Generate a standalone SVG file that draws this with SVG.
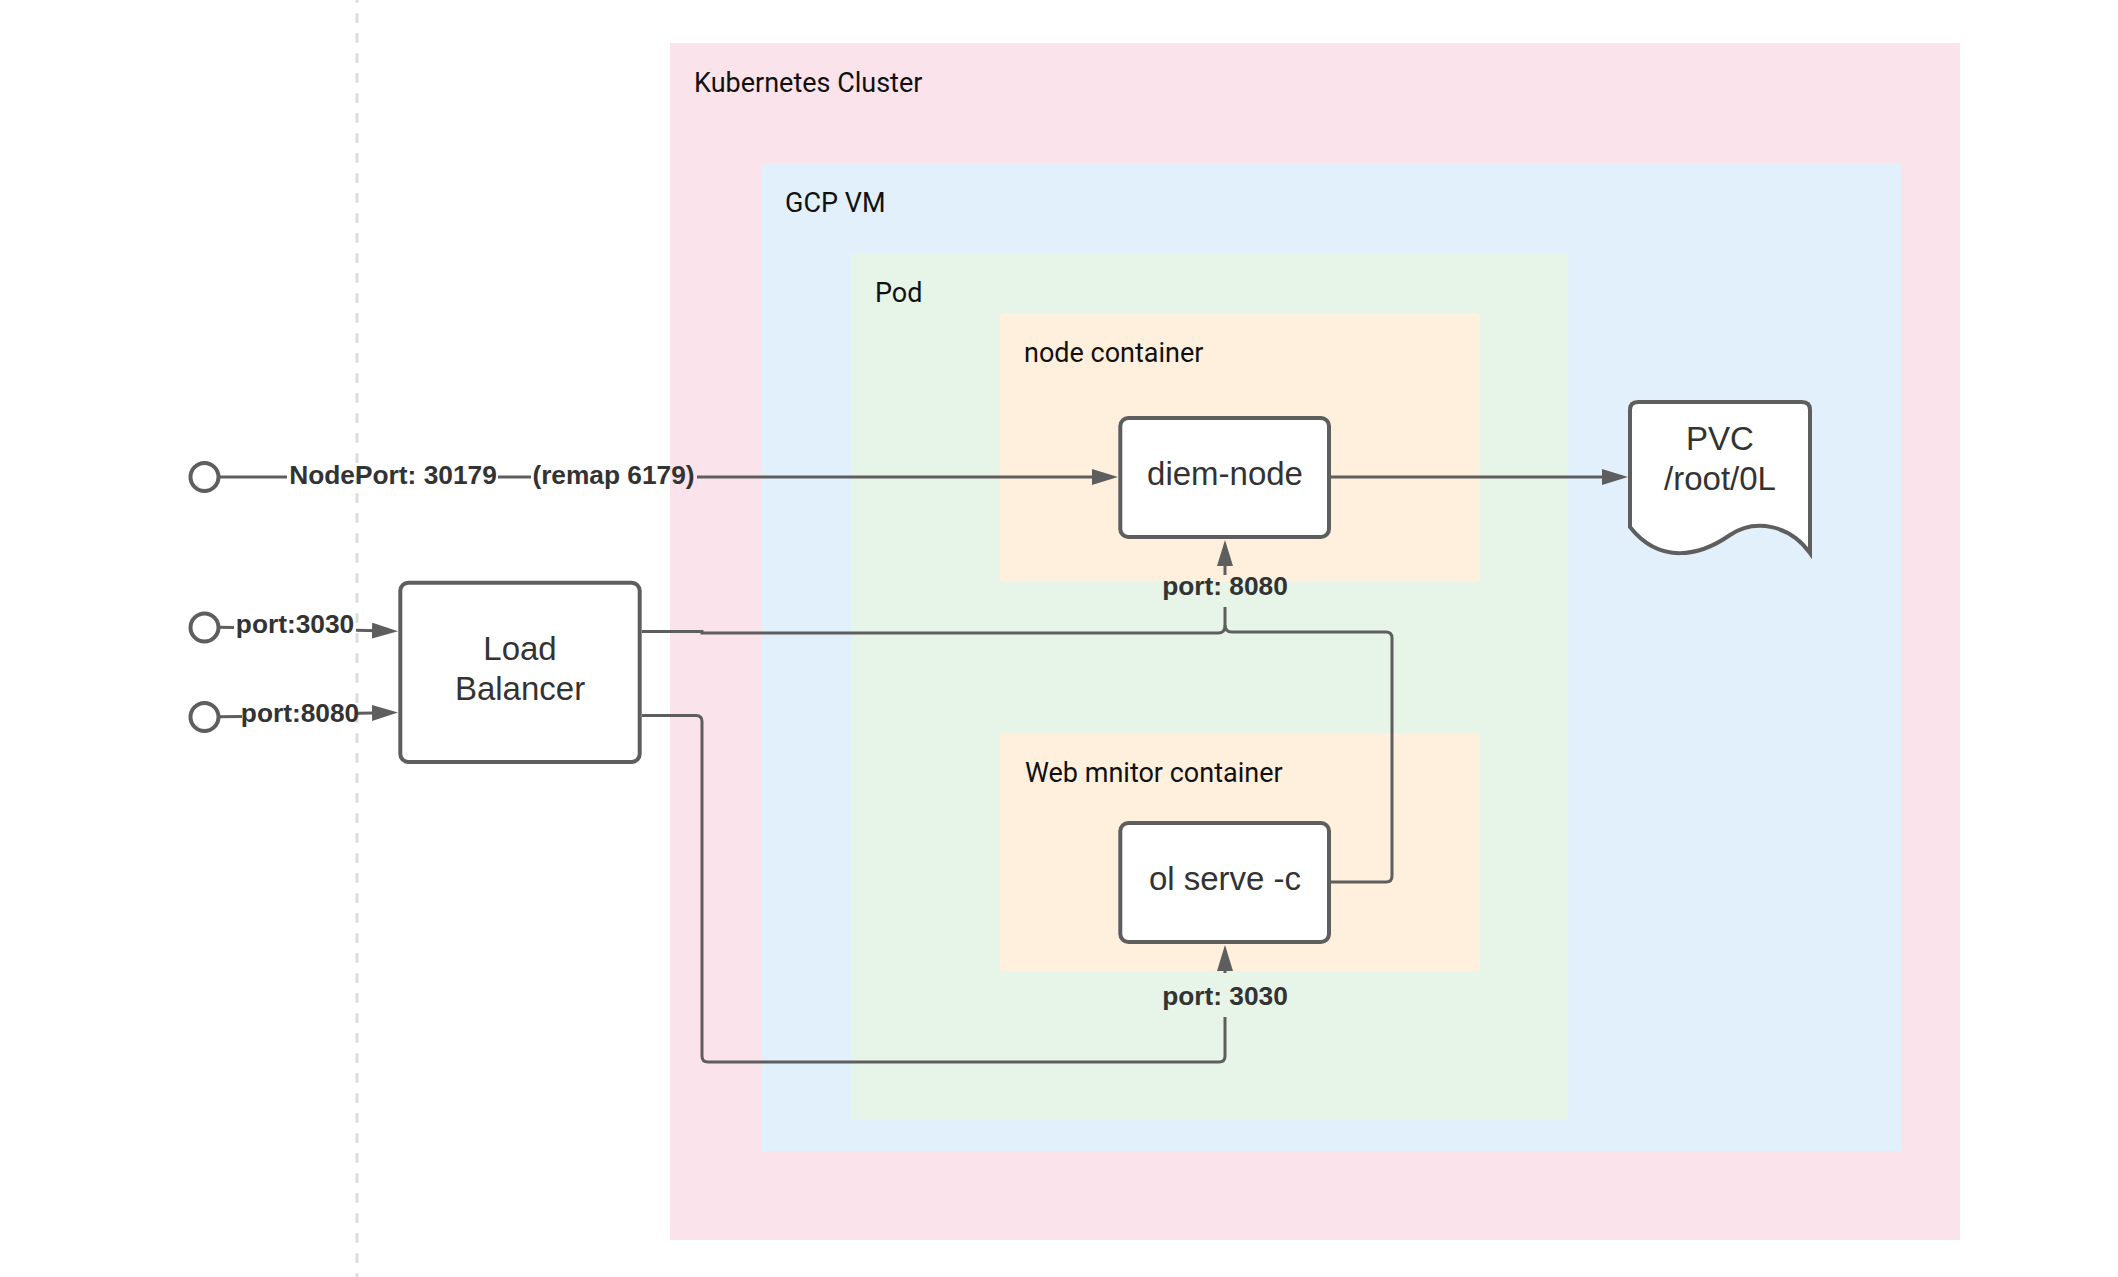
<svg xmlns="http://www.w3.org/2000/svg" width="2118" height="1277" viewBox="0 0 2118 1277">
<style>
.cont-label{font-family:Roboto,"Liberation Sans",sans-serif;font-size:27px;fill:#111;}
.box{fill:#fff;stroke:#5e5e5e;stroke-width:4;}
.box-text{font-family:"Liberation Sans",Arial,sans-serif;font-size:33px;fill:#333;text-anchor:middle;}
.edge{fill:none;stroke:#5e5e5e;stroke-width:3;}
.edge-label{font-family:"Liberation Sans",Arial,sans-serif;font-size:26.3px;font-weight:bold;fill:#333;text-anchor:middle;}
.port{fill:#fff;stroke:#5e5e5e;stroke-width:4;}
</style>
<defs>
<marker id="arrow" markerUnits="userSpaceOnUse" markerWidth="28" markerHeight="18" refX="16" refY="8" orient="auto">
<path d="M0,0 L26,8 L0,16 Z" fill="#5e5e5e"/>
</marker>
</defs>
<rect width="2118" height="1277" fill="#fff"/>
<line x1="357" y1="0" x2="357" y2="1277" stroke="#dcdcdc" stroke-width="3" stroke-dasharray="9.5 10.5" stroke-dashoffset="6.7"/>

<g id="kubernetes-cluster">
<rect x="670" y="43" width="1290" height="1197" fill="#fae3ea"/>
<text class="cont-label" x="694" y="92">Kubernetes Cluster</text>
</g>
<g id="gcp-vm">
<rect x="761" y="163" width="1140" height="988" fill="#e2f0fb"/>
<text class="cont-label" x="785" y="212">GCP VM</text>
</g>
<g id="pod">
<rect x="851" y="254" width="717" height="866" fill="#e7f4e8"/>
<text class="cont-label" x="875" y="302">Pod</text>
</g>
<g id="node-container">
<rect x="1000" y="313" width="480" height="268" fill="#fff0de"/>
<text class="cont-label" x="1024" y="361.5">node container</text>
</g>
<g id="web-monitor-container">
<rect x="1000" y="733.5" width="480" height="237.5" fill="#fff0de"/>
<text class="cont-label" x="1025" y="782">Web mnitor container</text>
</g>

<g id="connectors">
<path class="edge" d="M219,477 H287 M498,477 H531 M697,477 H1108" marker-end="url(#arrow)"/>
<text class="edge-label" x="393" y="484">NodePort: 30179</text>
<text class="edge-label" x="613.5" y="484">(remap 6179)</text>

<path class="edge" d="M1331,477 H1618" marker-end="url(#arrow)"/>

<path class="edge" d="M218.5,627.3 L234,627.6"/>
<path class="edge" d="M356,630.3 L388,631" marker-end="url(#arrow)"/>
<text class="edge-label" x="295" y="633">port:3030</text>

<path class="edge" d="M218.5,716.8 L242,716.4"/>
<path class="edge" d="M358,713.2 L388,712.7" marker-end="url(#arrow)"/>
<text class="edge-label" x="300" y="722">port:8080</text>

<path class="edge" d="M642,631.5 H702 V633 H1218 Q1225,633 1225,626 V607"/>
<path class="edge" d="M1225,575 V550" marker-end="url(#arrow)"/>
<text class="edge-label" x="1225" y="595">port: 8080</text>

<path class="edge" d="M1331,882 H1386 Q1392,882 1392,876 V638 Q1392,632 1386,632 H1232 Q1225,632 1225,625"/>

<path class="edge" d="M642,715.5 H696 Q702,715.5 702,721.5 V1056 Q702,1062 708,1062 H1219 Q1225,1062 1225,1056 V1017"/>
<path class="edge" d="M1225,973 V955" marker-end="url(#arrow)"/>
<text class="edge-label" x="1225" y="1005">port: 3030</text>
</g>

<g id="port-nodeport"><circle class="port" cx="204.5" cy="477" r="14"/></g>
<g id="port-3030"><circle class="port" cx="204.5" cy="627.5" r="14"/></g>
<g id="port-8080"><circle class="port" cx="204.5" cy="717" r="14"/></g>

<g id="load-balancer">
<rect class="box" x="400.3" y="582.7" width="239.4" height="179.3" rx="8"/>
<text class="box-text" x="520" y="659.5">Load</text>
<text class="box-text" x="520" y="700">Balancer</text>
</g>
<g id="diem-node">
<rect class="box" x="1120.3" y="418" width="208.7" height="119" rx="8"/>
<text class="box-text" x="1225" y="485">diem-node</text>
</g>
<g id="ol-serve">
<rect class="box" x="1120.3" y="823" width="208.7" height="119" rx="8"/>
<text class="box-text" x="1225" y="890">ol serve -c</text>
</g>
<g id="pvc">
<path class="box" d="M1630,527 V410 Q1630,402 1638,402 H1802 Q1810,402 1810,410 V553 C1790,525 1755,518 1730,535 C1700,556 1660,565 1630,527 Z"/>
<text class="box-text" x="1720" y="450">PVC</text>
<text class="box-text" x="1720" y="490">/root/0L</text>
</g>
</svg>
